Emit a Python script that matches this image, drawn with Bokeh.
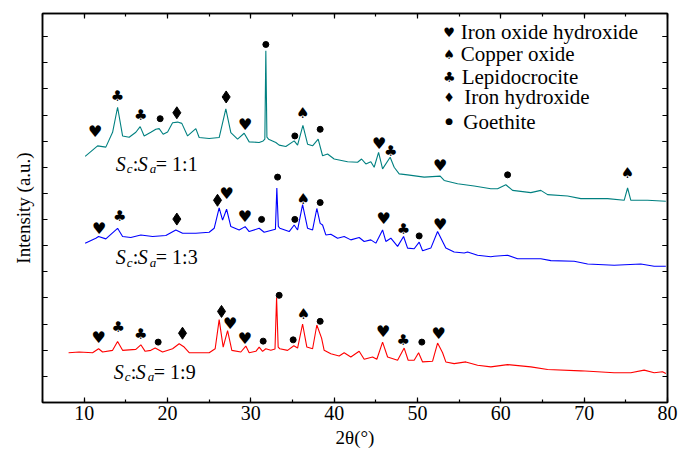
from bokeh.plotting import figure
from bokeh.models import (Range1d, LinearAxis, SingleIntervalTicker,
                          CustomJSTickFormatter, Label, ColumnDataSource)
from bokeh.core.properties import value
from bokeh.embed import file_html
from bokeh.resources import INLINE

# ---------------- data (2theta in degrees, intensity in a.u.) ----------------
teal_x = [10.12, 11.61, 12.60, 13.41, 14.01, 14.61, 15.40, 16.20, 16.72, 17.20, 18.00, 18.60,
          19.00, 19.48, 20.01, 20.61, 21.21, 21.72, 22.41, 23.40, 23.80, 25.00, 26.20, 27.00,
          27.60, 28.41, 29.20, 29.80, 31.00, 31.48, 31.68, 31.80, 31.93, 32.13, 33.00, 33.40,
          34.20, 35.20, 35.61, 36.25, 36.81, 37.41, 38.08, 38.61, 39.21, 40.00, 41.61, 42.81,
          43.29, 43.80, 44.40, 44.80, 45.33, 45.81, 46.72, 47.20, 47.80, 48.81, 50.80, 52.72,
          53.20, 54.81, 56.80, 58.80, 59.61, 60.60, 61.41, 63.60, 64.80, 65.61, 68.01, 69.60,
          72.81, 74.80, 75.21, 75.60, 77.61, 79.80]
teal_y = [248.7, 259.3, 258.0, 273.0, 298.3, 269.3, 268.0, 273.0, 278.7, 269.3, 273.0, 276.0,
          276.7, 271.0, 273.3, 282.7, 283.3, 282.0, 269.3, 276.7, 267.7, 266.7, 267.7, 296.7,
          272.7, 266.0, 272.0, 263.3, 262.7, 264.3, 266.0, 355.3, 268.0, 266.0, 262.7, 260.0,
          258.7, 264.3, 260.0, 280.0, 261.0, 259.3, 266.0, 249.3, 251.0, 246.0, 243.3, 242.7,
          246.0, 241.0, 243.3, 237.7, 252.7, 236.0, 247.7, 237.7, 231.0, 230.0, 227.7, 228.7,
          224.3, 221.0, 218.7, 216.0, 216.0, 220.0, 214.3, 212.0, 214.3, 210.0, 208.7, 206.0,
          206.0, 204.3, 216.7, 204.3, 204.3, 203.3]

blue_x = [10.12, 11.40, 11.73, 12.60, 14.01, 14.61, 15.60, 16.80, 18.21, 19.80, 21.00, 21.81,
          23.40, 25.00, 25.60, 26.20, 26.61, 27.09, 27.60, 28.60, 29.32, 29.80, 31.00, 31.60,
          32.61, 32.95, 33.12, 33.30, 33.48, 34.60, 35.20, 35.61, 36.21, 36.81, 37.41, 37.92,
          38.32, 38.61, 39.00, 39.60, 40.41, 41.20, 42.00, 43.00, 43.60, 44.40, 45.00, 45.81,
          46.20, 46.80, 47.61, 48.33, 48.81, 49.60, 50.20, 50.61, 51.60, 52.41, 53.01, 53.40,
          54.40, 55.60, 56.01, 57.21, 58.80, 59.20, 60.81, 62.01, 64.80, 66.00, 68.80, 70.41,
          73.60, 76.80, 78.40, 79.80]
blue_y = [161.0, 166.0, 167.7, 165.3, 176.0, 167.7, 166.7, 169.3, 167.7, 168.7, 174.3, 171.0,
          171.0, 172.0, 176.0, 196.7, 184.3, 195.3, 177.7, 174.3, 177.7, 172.7, 176.0, 172.0,
          174.3, 175.0, 216.7, 178.0, 176.0, 172.7, 179.3, 174.3, 200.0, 176.0, 174.3, 196.0,
          181.0, 179.3, 169.3, 170.0, 166.0, 167.7, 164.3, 166.7, 162.7, 164.3, 161.0, 174.3,
          162.7, 166.0, 157.7, 167.7, 156.0, 155.3, 162.0, 153.3, 156.0, 172.7, 162.7, 156.0,
          152.0, 151.0, 152.0, 148.7, 147.3, 147.7, 148.7, 145.3, 145.3, 143.3, 142.7, 140.0,
          138.7, 140.0, 137.7, 137.7]

red_x = [8.13, 9.40, 11.01, 11.73, 12.21, 13.41, 14.01, 14.61, 16.20, 16.80, 17.32, 18.00,
         18.52, 19.41, 20.61, 21.40, 22.00, 22.60, 25.00, 25.72, 26.20, 26.68, 27.21, 27.72,
         28.80, 29.40, 29.80, 30.60, 31.00, 31.41, 31.80, 32.40, 32.90, 33.09, 33.28, 33.48,
         34.41, 35.16, 35.61, 36.21, 36.72, 37.41, 37.92, 38.49, 38.80, 39.60, 40.60, 41.20,
         42.00, 43.00, 43.60, 44.61, 45.12, 45.81, 46.41, 47.61, 48.40, 48.88, 49.60, 50.13,
         50.61, 51.81, 52.41, 53.01, 53.40, 54.40, 55.80, 57.21, 58.80, 60.81, 63.60, 65.61,
         69.60, 73.60, 75.60, 77.20, 78.40, 79.40, 79.80]
red_y = [50.3, 51.0, 50.3, 54.3, 51.0, 52.7, 61.7, 52.7, 53.7, 58.3, 51.7, 52.7,
         55.0, 51.0, 54.3, 59.3, 56.0, 50.3, 50.3, 54.3, 83.7, 56.0, 72.7, 52.7,
         51.0, 57.0, 50.3, 51.7, 56.0, 51.7, 54.3, 52.7, 54.0, 106.0, 56.0, 54.3,
         52.7, 57.3, 55.0, 79.3, 56.0, 54.3, 78.3, 65.0, 52.7, 49.3, 47.0, 50.3,
         46.0, 51.7, 43.7, 46.0, 43.7, 61.0, 46.0, 42.7, 55.0, 42.7, 42.7, 50.3,
         41.0, 41.7, 60.0, 50.3, 41.0, 39.3, 41.0, 37.7, 36.0, 38.3, 36.0, 33.3,
         32.0, 30.0, 30.0, 32.7, 30.0, 31.0, 29.3]

# phase markers (position of each symbol above its peak)
heart_x = [11.32, 29.32, 45.40, 52.72, 11.80, 27.09, 29.28, 45.93, 52.72,
           11.73, 27.52, 29.28, 45.88, 52.53]
heart_y = [273.3, 281.0, 262.0, 239.3, 176.0, 211.0, 187.7, 186.0, 180.3,
           66.0, 80.3, 64.3, 71.7, 70.0]
spade_x = [36.24, 75.21, 36.28, 36.33]
spade_y = [292.7, 232.0, 206.0, 89.3]
club_x = [14.01, 16.80, 46.80, 14.28, 48.33, 14.08, 16.80, 48.28]
club_y = [309.3, 290.0, 254.3, 188.7, 175.3, 76.0, 69.3, 63.3]
diamond_x = [21.12, 27.04, 21.12, 26.00, 21.80, 26.48]
diamond_y = [292.7, 308.7, 185.3, 204.3, 70.0, 92.0]
dot_x = [19.12, 31.80, 35.28, 38.32, 60.81, 31.29, 33.21, 35.28, 38.32, 50.20,
         18.88, 31.48, 33.40, 35.08, 38.32, 50.52]
dot_y = [286.7, 361.7, 269.3, 276.0, 230.0, 185.0, 227.7, 185.0, 202.0, 168.3,
         61.0, 62.0, 108.3, 63.3, 82.0, 61.0]

legend_names = ["Iron oxide hydroxide", "Copper oxide", "Lepidocrocite",
                 "Iron hydroxide", "Goethite"]
ratios = ["1:1", "1:3", "1:9"]

# ---------------- figure ----------------
SERIF = "Liberation Serif"
SYM = "DejaVu Sans"

p = figure(width=679, height=450, output_backend="svg", toolbar_location=None,
           x_range=Range1d(5, 80), y_range=Range1d(0, 393),
           min_border_left=42, min_border_right=12, min_border_top=13,
           min_border_bottom=44)
p.grid.visible = False
p.outline_line_color = "black"
p.outline_line_width = 1.5

blank = CustomJSTickFormatter(code="return ''")


def style_axis(ax, interval, minor_in, labels=True):
    ax.ticker = SingleIntervalTicker(interval=interval, num_minor_ticks=2)
    ax.axis_line_width = 1.5
    ax.major_tick_in = 5
    ax.major_tick_out = 0
    ax.minor_tick_in = minor_in
    ax.minor_tick_out = 0
    ax.major_tick_line_width = 1.2
    ax.minor_tick_line_width = 1.2
    ax.major_label_text_font = SERIF
    ax.major_label_text_font_size = "20px"
    ax.major_label_text_color = "black"
    if not labels:
        ax.formatter = blank
        ax.major_label_text_font_size = "0px"


xa = p.xaxis[0]
style_axis(xa, 10, 3)
xa.major_label_standoff = 3
xa.axis_label = "2θ(°)"
xa.axis_label_text_font = SERIF
xa.axis_label_text_font_style = "normal"
xa.axis_label_text_font_size = "19px"
xa.axis_label_text_color = "black"
xa.axis_label_standoff = 4

ya = p.yaxis[0]
style_axis(ya, 52.8, 5, labels=False)
ya.axis_label = "Intensity (a.u.)"
ya.axis_label_text_font = SERIF
ya.axis_label_text_font_style = "normal"
ya.axis_label_text_font_size = "19px"
ya.axis_label_text_color = "black"
ya.axis_label_standoff = 9

top = LinearAxis()
style_axis(top, 10, 3, labels=False)
p.add_layout(top, "above")
right = LinearAxis()
style_axis(right, 52.8, 5, labels=False)
p.add_layout(right, "right")

# traces
p.line(teal_x, teal_y, line_color="#008080", line_width=1.1)
p.line(blue_x, blue_y, line_color="#0000FF", line_width=1.1)
p.line(red_x, red_y, line_color="#FF0000", line_width=1.1)

# markers
for xs, ys, ch, size in [(heart_x, heart_y, "♥", "16px"),
                         (spade_x, spade_y, "♠", "15px"),
                         (club_x, club_y, "♣", "15px")]:
    src = ColumnDataSource(dict(x=xs, y=ys, t=[ch] * len(xs)))
    p.text("x", "y", text="t", source=src, text_font=value(SYM),
           text_font_size=value(size), text_align="center",
           text_baseline="middle", text_color="black")
p.scatter(diamond_x, diamond_y, marker="diamond", size=12, color="black")
p.scatter(dot_x, dot_y, marker="circle", size=6, color="black")

# legend (symbols + names)
leg_sym = ["♥", "♠", "♣", "♦", "●"]
leg_sym_size = ["13px", "13px", "14px", "13px", "9px"]
leg_sym_y = [374.3, 352.0, 329.3, 307.7, 284.3]
leg_txt_y = [374.3, 352.0, 329.3, 308.3, 283.0]
leg_txt_x = [55.2, 55.2, 55.3, 55.6, 55.5]
for s, ss, sy, name, ty, tx in zip(leg_sym, leg_sym_size, leg_sym_y,
                                   legend_names, leg_txt_y, leg_txt_x):
    p.add_layout(Label(x=53.8, y=sy, text=s, text_font=SYM, text_font_size=ss,
                       text_align="center", text_baseline="middle",
                       text_color="black"))
    p.add_layout(Label(x=tx, y=ty, text=name, text_font=SERIF,
                       text_font_size="21px", text_baseline="middle",
                       text_color="black"))

# sample labels  S_c:S_a = ratio
label_pos = [(13.8, 241.0), (13.8, 146.7), (13.56, 31.0)]
for (lx, ly), r in zip(label_pos, ratios):
    pieces = [("S", 0, 0, "20px", "italic"),
              ("c", 11, -5, "13px", "italic"),
              (":", 17, 0, "20px", "normal"),
              ("S", 22, 0, "20px", "italic"),
              ("a", 34, -5, "13px", "italic"),
              ("= " + r, 40, 0, "20px", "normal")]
    for t, dx, dy, fs, st in pieces:
        p.add_layout(Label(x=lx, y=ly, x_offset=dx, y_offset=dy, text=t,
                           text_font=SERIF, text_font_size=fs,
                           text_font_style=st, text_baseline="alphabetic",
                           text_color="black"))

open("out.html", "w").write(file_html(p, INLINE))
